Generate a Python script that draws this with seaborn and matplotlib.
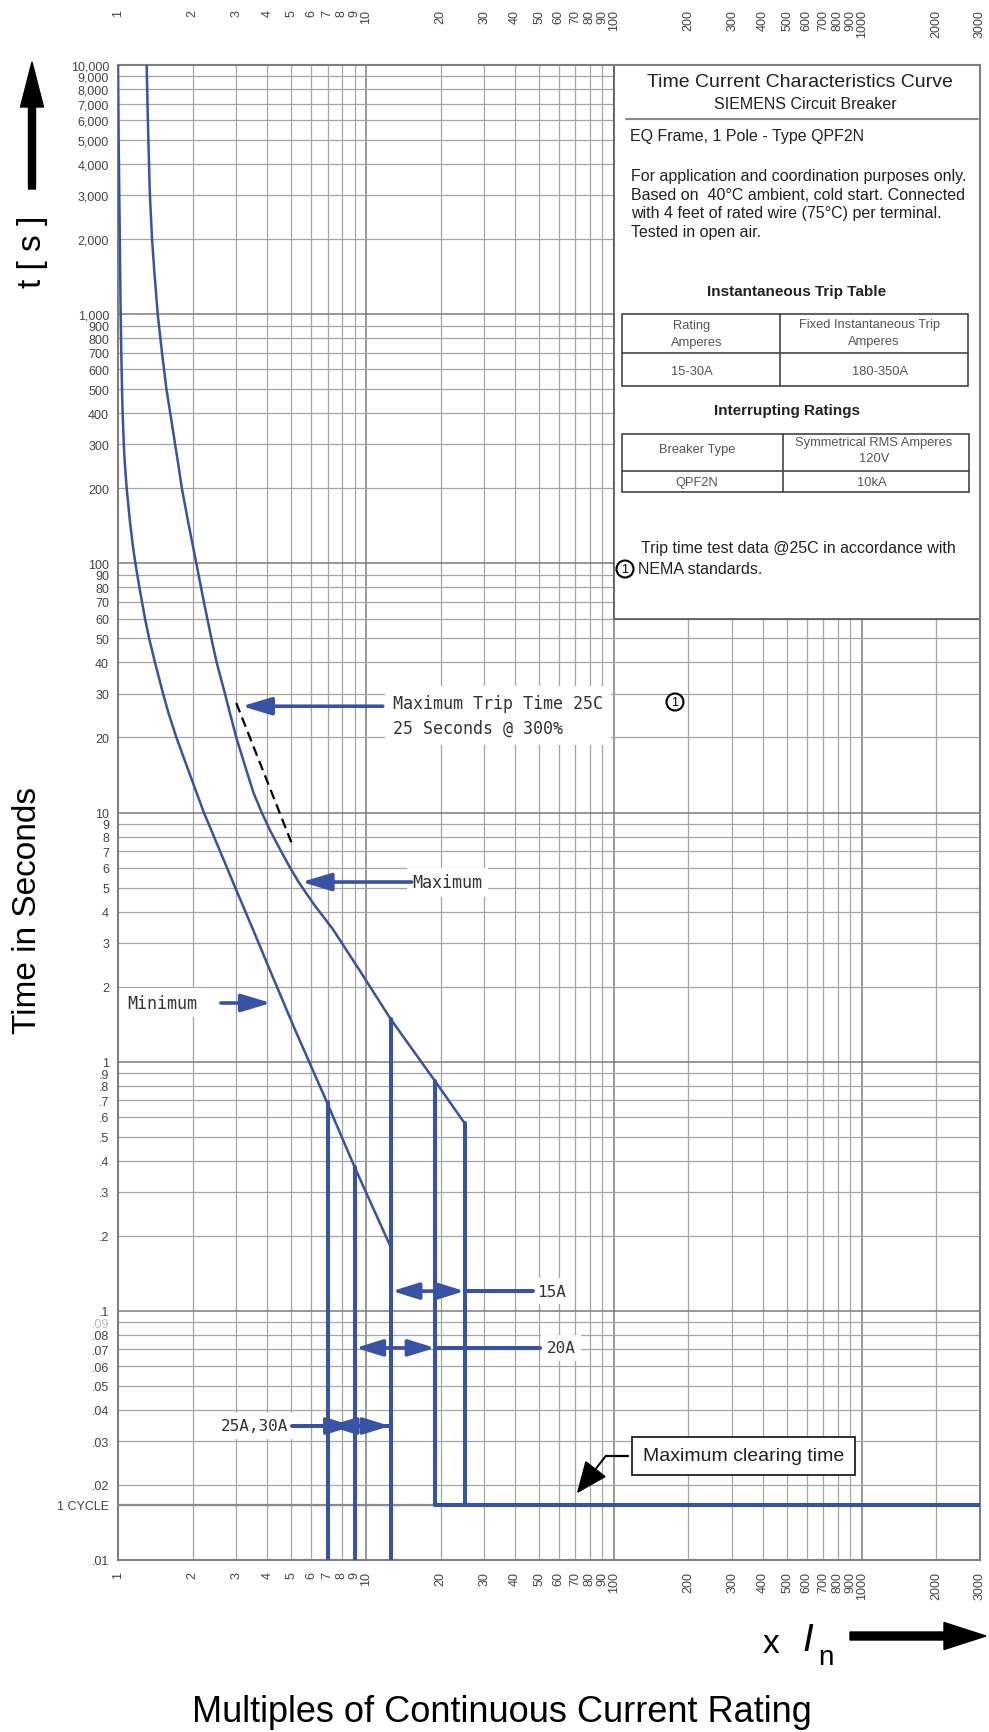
import matplotlib
matplotlib.use("Agg")
import numpy as np
import pandas as pd
import seaborn as sns
import matplotlib.pyplot as plt
from matplotlib.patches import Rectangle, FancyArrow, Circle

# ---------------------------------------------------------------- data
# Minimum trip curve (multiples of rating, seconds)
min_curve_x = [1.000, 1.006, 1.012, 1.017, 1.025, 1.031, 1.038, 1.044, 1.055, 1.066,
               1.084, 1.115, 1.145, 1.175, 1.22, 1.285, 1.335, 1.41, 1.52, 1.60,
               1.72, 1.95, 2.22, 2.42, 2.70, 2.97, 3.5, 4.2, 5.2, 6.95, 9.0, 12.6]
min_curve_t = [10000, 5000, 3000, 2000, 1000, 700, 500, 400, 300, 250,
               200, 150, 120, 100, 80, 60, 50, 40, 30, 25,
               20, 14.2, 10, 8.15, 6.28, 5.0, 3.4, 2.2, 1.33, 0.69, 0.378, 0.18]

# Maximum trip curve
max_curve_x = [1.305, 1.315, 1.326, 1.334, 1.345, 1.372, 1.400, 1.446, 1.505, 1.568,
               1.625, 1.70, 1.75, 1.81, 1.91, 2.07, 2.22, 2.38, 2.50, 2.70,
               2.83, 3.00, 3.28, 3.52, 3.80, 4.1, 4.5, 4.9, 5.35, 6.2,
               7.36, 9.5, 12.6, 19.0, 25.0]
max_curve_t = [10000, 7000, 5000, 4000, 3000, 2000, 1500, 1000, 700, 500,
               400, 300, 250, 200, 150, 100, 70, 50, 40, 30,
               25, 20, 15, 12, 10, 8.5, 7.13, 6.1, 5.26, 4.25,
               3.4, 2.3, 1.48, 0.836, 0.567]

# Maximum trip time at 25 C (dashed)
dash_x = [3.0, 5.0]
dash_t = [27.5, 7.6]

ONE_CYCLE = 1 / 60

# Instantaneous trip band verticals
band_x = [7.0, 9.0, 12.6, 19.0, 25.0]
band_top = [0.69, 0.378, 1.48, 0.836, 0.567]
band_bottom = [0.01, 0.01, 0.01, ONE_CYCLE, ONE_CYCLE]

# Maximum clearing time
clear_x = [19.0, 3000.0]
clear_t = [ONE_CYCLE, ONE_CYCLE]

# Axis ticks
x_major = [1, 10, 100, 1000]
x_major_labels = ["1", "10", "100", "1000"]
x_minor = [2, 3, 4, 5, 6, 7, 8, 9, 20, 30, 40, 50, 60, 70, 80, 90,
           200, 300, 400, 500, 600, 700, 800, 900, 2000, 3000]
x_minor_labels = ["2", "3", "4", "5", "6", "7", "8", "9", "20", "30", "40", "50",
                  "60", "70", "80", "90", "200", "300", "400", "500", "600", "700",
                  "800", "900", "2000", "3000"]

y_major = [0.01, 0.1, 1, 10, 100, 1000, 10000]
y_major_labels = [".01", ".1", "1", "10", "100", "1,000", "10,000"]
y_minor = [ONE_CYCLE, 0.02, 0.03, 0.04, 0.05, 0.06, 0.07, 0.08, 0.09,
           0.2, 0.3, 0.4, 0.5, 0.6, 0.7, 0.8, 0.9,
           2, 3, 4, 5, 6, 7, 8, 9,
           20, 30, 40, 50, 60, 70, 80, 90,
           200, 300, 400, 500, 600, 700, 800, 900,
           2000, 3000, 4000, 5000, 6000, 7000, 8000, 9000]
y_minor_labels = ["1 CYCLE", ".02", ".03", ".04", ".05", ".06", ".07", ".08", ".09",
                  ".2", ".3", ".4", ".5", ".6", ".7", ".8", ".9",
                  "2", "3", "4", "5", "6", "7", "8", "9",
                  "20", "30", "40", "50", "60", "70", "80", "90",
                  "200", "300", "400", "500", "600", "700", "800", "900",
                  "2,000", "3,000", "4,000", "5,000", "6,000", "7,000", "8,000", "9,000"]

# ---------------------------------------------------------------- style
sns.set_theme(style="white")
plt.rcParams["font.family"] = ["Liberation Sans", "DejaVu Sans"]

BLUE = "#3853a5"
TXT = "#333333"
MONO = "DejaVu Sans Mono"

W, H, DPI = 989, 1733, 100
fig = plt.figure(figsize=(W / DPI, H / DPI), dpi=DPI)
fig.patch.set_facecolor("white")
ax = fig.add_axes([118 / W, (H - 1561) / H, (980 - 118) / W, (1561 - 66) / H])
ax.set_facecolor("white")
IN = fig.dpi_scale_trans


def P(x, y):
    """pixel position (from top-left) -> inches for dpi_scale_trans"""
    return (x / DPI, (H - y) / DPI)


ax.set_xscale("log")
ax.set_yscale("log")
ax.set_xlim(1, 3000)
ax.set_ylim(0.01, 10000)
ax.set_axisbelow(True)

ax.set_xticks(x_major, labels=x_major_labels)
ax.set_xticks(x_minor, labels=x_minor_labels, minor=True)
ax.set_yticks(y_major, labels=y_major_labels)
ax.set_yticks(y_minor, labels=y_minor_labels, minor=True)
ax.tick_params(axis="both", which="both", length=0, labelsize=9, labelcolor="#444444")
ax.tick_params(axis="y", which="both", pad=6.5)
ax.tick_params(axis="x", which="both", pad=8, labelrotation=90)
for lbl, v in zip(ax.get_yticklabels(minor=True), y_minor):
    if abs(v - 0.09) < 1e-9:
        lbl.set_color("#bbbbbb")

ax.grid(True, which="major", color="#7d7d7d", lw=1.1)
ax.grid(True, which="minor", color="#a5a5a5", lw=0.9)
ax.axhline(ONE_CYCLE, color="#8a8a8a", lw=1.6, zorder=0.6)
for s in ax.spines.values():
    s.set_color("#808080")
    s.set_linewidth(1.5)

# top scale labels
for v, t in zip(x_major + x_minor, x_major_labels + x_minor_labels):
    ax.text(v, 1.0375, t, transform=ax.get_xaxis_transform(), rotation=90,
            ha="center", va="top", fontsize=9, color="#444444")

# ---------------------------------------------------------------- curves
curves = pd.DataFrame({
    "x": min_curve_x + max_curve_x,
    "t": min_curve_t + max_curve_t,
    "curve": ["min"] * len(min_curve_x) + ["max"] * len(max_curve_x),
})
sns.lineplot(data=curves, x="x", y="t", units="curve", estimator=None, sort=False,
             color=BLUE, lw=1.8, ax=ax, zorder=4)

bands = pd.DataFrame({
    "x": [v for v in band_x for _ in range(2)] + clear_x,
    "t": [v for pair in zip(band_top, band_bottom) for v in pair] + clear_t,
    "seg": [i for i in range(len(band_x)) for _ in range(2)] + [99, 99],
})
sns.lineplot(data=bands, x="x", y="t", units="seg", estimator=None, sort=False,
             color=BLUE, lw=2.9, ax=ax, zorder=4)

sns.lineplot(x=dash_x, y=dash_t, color="black", lw=1.6, ax=ax, zorder=4,
             linestyle=(0, (4.5, 2.5)))

# ---------------------------------------------------------------- info panel
ax.add_patch(Rectangle((100, 60), 2900, 9940, facecolor="white",
                       edgecolor="#555555", lw=1.2, zorder=1.5))
fig.text(*P(800, 83), "Time Current Characteristics Curve", transform=IN,
         ha="center", va="center", fontsize=14, color="#222222")
fig.text(*P(805, 105), "SIEMENS Circuit Breaker", transform=IN,
         ha="center", va="center", fontsize=11.5, color="#222222")
fig.add_artist(plt.Line2D([6.26, 9.78], [(H - 120) / DPI] * 2, transform=IN,
                          color="#8a8a8a", lw=1.5))
fig.text(*P(630, 137), "EQ Frame, 1 Pole - Type QPF2N", transform=IN,
         ha="left", va="center", fontsize=11.5, color="#222222")
para = ["For application and coordination purposes only.",
        "Based on  40\u00b0C ambient, cold start. Connected",
        "with 4 feet of rated wire (75\u00b0C) per terminal.",
        "Tested in open air."]
for i, line in enumerate(para):
    fig.text(*P(631, 177 + 18.4 * i), line, transform=IN, ha="left",
             va="center", fontsize=11.5, color="#222222")

fig.text(*P(797, 292), "Instantaneous Trip Table", transform=IN, ha="center",
         va="center", fontsize=11, fontweight="bold", color="#222222")
fig.text(*P(787, 411), "Interrupting Ratings", transform=IN, ha="center",
         va="center", fontsize=11, fontweight="bold", color="#222222")


def table_box(x0, y0, x1, y1, xmid, ymid):
    fig.add_artist(Rectangle(P(x0, y1), (x1 - x0) / DPI, (y1 - y0) / DPI,
                             transform=IN, facecolor="none",
                             edgecolor="#444444", lw=1.2))
    fig.add_artist(plt.Line2D([xmid / DPI] * 2, [(H - y0) / DPI, (H - y1) / DPI],
                              transform=IN, color="#444444", lw=1.2))
    fig.add_artist(plt.Line2D([x0 / DPI, x1 / DPI], [(H - ymid) / DPI] * 2,
                              transform=IN, color="#444444", lw=1.2))


table_box(622, 315, 968, 387, 780, 354)
table_box(622, 435, 969, 493, 783, 472)
cells = [(692, 326, "Rating"), (697, 343, "Amperes"),
         (870, 325, "Fixed Instantaneous Trip"), (874, 342, "Amperes"),
         (692, 372, "15-30A"), (880, 372, "180-350A"),
         (697, 450, "Breaker Type"), (874, 443, "Symmetrical RMS Amperes"),
         (874, 459, "120V"), (697, 483, "QPF2N"), (872, 483, "10kA")]
for cx, cy, s in cells:
    fig.text(*P(cx, cy), s, transform=IN, ha="center", va="center",
             fontsize=9.3, color="#555555")

fig.text(*P(641, 549), "Trip time test data @25C in accordance with",
         transform=IN, ha="left", va="center", fontsize=11.5, color="#222222")
fig.text(*P(638, 570), "NEMA standards.", transform=IN, ha="left",
         va="center", fontsize=11.5, color="#222222")


def circled_one(x, y):
    fig.add_artist(Circle(P(x, y), 0.085, transform=IN, facecolor="white",
                          edgecolor="black", lw=1.5, zorder=6))
    fig.text(*P(x, y + 0.5), "1", transform=IN, ha="center", va="center",
             fontsize=9, color="black", zorder=7)


circled_one(625, 570)
circled_one(675, 703)

# ---------------------------------------------------------------- annotations
WHITE = dict(facecolor="white", edgecolor="none", pad=4)


def blue_arrow(tail, tip, style="-|>", hl=1.0, hw=0.3, ms=18):
    ax.annotate("", xy=tip, xytext=tail,
                arrowprops=dict(arrowstyle=f"{style},head_length={hl},head_width={hw}",
                                mutation_scale=ms, lw=2.6, color=BLUE,
                                shrinkA=0, shrinkB=0), zorder=5)


ax.text(12.85, 24.5, "Maximum Trip Time 25C\n25 Seconds @ 300%", ha="left",
        va="center", fontsize=12, family=MONO, color=TXT, linespacing=1.45,
        bbox=dict(facecolor="white", edgecolor="none", pad=6), zorder=3)
blue_arrow((11.7, 26.7), (3.16, 26.7))

ax.text(15.4, 5.26, "Maximum", ha="left", va="center", fontsize=12, family=MONO,
        color=TXT, bbox=WHITE, zorder=3)
blue_arrow((15.3, 5.26), (5.5, 5.26))

ax.text(1.087, 1.72, "Minimum", ha="left", va="center", fontsize=12, family=MONO,
        color=TXT, bbox=WHITE, zorder=3)
blue_arrow((2.6, 1.72), (4.14, 1.72))

# 15A
ax.text(49.2, 0.12, "15A", ha="left", va="center", fontsize=11.5, family=MONO,
        color=TXT, bbox=WHITE, zorder=3)
blue_arrow((12.75, 0.12), (25, 0.12), style="<|-|>", hl=0.9, hw=0.28)
ax.plot([25, 47.1], [0.12, 0.12], color=BLUE, lw=2.9, zorder=5)

# 20A
ax.text(53.7, 0.071, "20A", ha="left", va="center", fontsize=11.5, family=MONO,
        color=TXT, bbox=WHITE, zorder=3)
blue_arrow((9.1, 0.071), (19, 0.071), style="<|-|>", hl=0.9, hw=0.28)
ax.plot([19, 50.3], [0.071, 0.071], color=BLUE, lw=2.9, zorder=5)

# 25A, 30A
ax.text(4.85, 0.0345, "25A,30A", ha="right", va="center", fontsize=11.5,
        family=MONO, color=TXT, bbox=WHITE, zorder=3)
ax.plot([5.03, 12.6], [0.0345, 0.0345], color=BLUE, lw=2.9, zorder=5)
blue_arrow((8.0, 0.0345), (7.1, 0.0345), hl=0.9, hw=0.28)
blue_arrow((7.9, 0.0345), (8.9, 0.0345), hl=0.9, hw=0.28)
blue_arrow((10.5, 0.0345), (12.5, 0.0345), hl=0.9, hw=0.28)

# Maximum clearing time callout
ax.text(334, 0.0262, "Maximum clearing time", ha="center", va="center",
        fontsize=14, color="#222222", zorder=6,
        bbox=dict(boxstyle="square,pad=0.55", facecolor="white",
                  edgecolor="#222222", lw=1.3))
ax.plot([113.9, 92.9], [0.0262, 0.0262], color="black", lw=1.6, zorder=5)
ax.annotate("", xy=(70.9, 0.0185), xytext=(92.9, 0.0262),
            arrowprops=dict(arrowstyle="-|>,head_length=1.0,head_width=0.42",
                            mutation_scale=20, lw=1.4, color="black",
                            shrinkA=0, shrinkB=0), zorder=5)

# ---------------------------------------------------------------- axis titles
fig.text(*P(32, 252), "t [ s ]", transform=IN, rotation=90, ha="center",
         va="center", fontsize=24, color="black")
fig.add_artist(FancyArrow(0.32, (H - 190) / DPI, 0, 1.27, width=0.07,
                          head_width=0.23, head_length=0.45,
                          length_includes_head=True, color="black", transform=IN))
fig.text(*P(28, 910), "Time in Seconds", transform=IN, rotation=90,
         ha="center", va="center", fontsize=24, color="black")

fig.text(*P(771, 1645), "x", transform=IN, ha="center", va="center",
         fontsize=24, color="black")
fig.text(*P(808, 1641), "I", transform=IN, ha="center", va="center",
         fontsize=28, style="italic", color="black")
fig.text(*P(826, 1658), "n", transform=IN, ha="center", va="center",
         fontsize=20, color="black")
fig.add_artist(FancyArrow(8.50, (H - 1637) / DPI, 1.36, 0, width=0.08,
                          head_width=0.27, head_length=0.42,
                          length_includes_head=True, color="black", transform=IN))
fig.text(*P(502, 1713), "Multiples of Continuous Current Rating", transform=IN,
         ha="center", va="center", fontsize=26, color="black")

ax.set_xlabel("")
ax.set_ylabel("")
fig.savefig("out.png", dpi=DPI, facecolor="white")
